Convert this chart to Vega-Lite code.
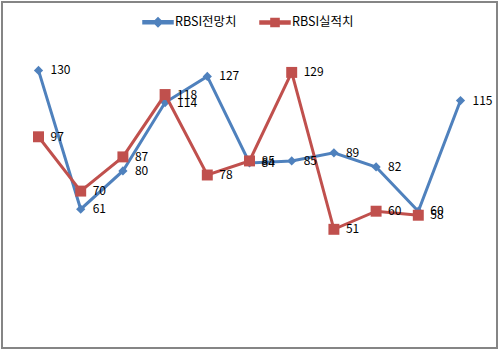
{
  "$schema": "https://vega.github.io/schema/vega-lite/v6.json",
  "width": 495,
  "height": 346,
  "padding": {"left": 2, "top": 2, "right": 3, "bottom": 4},
  "autosize": {"type": "none"},
  "background": "white",
  "config": {"view": {"stroke": "#858585", "strokeWidth": 2}, "font": "Noto Sans CJK KR"},
  "data": {"values": [
    {"s": "RBSI전망치", "i": 1, "v": 130},
    {"s": "RBSI전망치", "i": 2, "v": 61},
    {"s": "RBSI전망치", "i": 3, "v": 80},
    {"s": "RBSI전망치", "i": 4, "v": 114},
    {"s": "RBSI전망치", "i": 5, "v": 127},
    {"s": "RBSI전망치", "i": 6, "v": 84},
    {"s": "RBSI전망치", "i": 7, "v": 85},
    {"s": "RBSI전망치", "i": 8, "v": 89},
    {"s": "RBSI전망치", "i": 9, "v": 82},
    {"s": "RBSI전망치", "i": 10, "v": 60},
    {"s": "RBSI전망치", "i": 11, "v": 115},
    {"s": "RBSI실적치", "i": 1, "v": 97},
    {"s": "RBSI실적치", "i": 2, "v": 70},
    {"s": "RBSI실적치", "i": 3, "v": 87},
    {"s": "RBSI실적치", "i": 4, "v": 118},
    {"s": "RBSI실적치", "i": 5, "v": 78},
    {"s": "RBSI실적치", "i": 6, "v": 85},
    {"s": "RBSI실적치", "i": 7, "v": 129},
    {"s": "RBSI실적치", "i": 8, "v": 51},
    {"s": "RBSI실적치", "i": 9, "v": 60},
    {"s": "RBSI실적치", "i": 10, "v": 58}
  ]},
  "encoding": {
    "x": {"field": "i", "type": "ordinal", "scale": {"type": "point", "padding": 0.865}, "axis": null},
    "y": {"field": "v", "type": "quantitative", "scale": {"domain": [-8, 164], "nice": false, "zero": false}, "axis": null},
    "color": {
      "field": "s", "type": "nominal",
      "scale": {"domain": ["RBSI전망치", "RBSI실적치"], "range": ["#4F81BD", "#C0504D"]},
      "legend": {
        "orient": "none", "legendX": 140, "legendY": 4, "direction": "horizontal", "title": null,
        "symbolSize": 900, "labelFontSize": 12.5, "labelFont": "Noto Sans CJK KR", "labelColor": "black",
        "columnPadding": 20, "labelOffset": 1,
        "encode": {"symbols": {"update": {
          "shape": {"signal": "datum.value === 'RBSI전망치' ? 'M-1,-0.1H-0.2L0,-0.3L0.2,-0.1H1V0.1H0.2L0,0.3L-0.2,0.1H-1Z' : 'M-1,-0.1H-0.27V-0.27H0.27V-0.1H1V0.1H0.27V0.27H-0.27V0.1H-1Z'"},
          "fill": {"scale": "color", "field": "value"},
          "stroke": {"value": "transparent"},
          "opacity": {"value": 1}
        }}}
      }
    }
  },
  "layer": [
    {"transform": [{"filter": "datum.s === 'RBSI전망치'"}], "mark": {"type": "line", "strokeWidth": 3}},
    {"transform": [{"filter": "datum.s === 'RBSI전망치'"}], "mark": {"type": "point", "shape": "diamond", "filled": true, "size": 85, "opacity": 1}},
    {"transform": [{"filter": "datum.s === 'RBSI실적치'"}], "mark": {"type": "line", "strokeWidth": 3}},
    {"transform": [{"filter": "datum.s === 'RBSI실적치'"}], "mark": {"type": "point", "shape": "square", "filled": true, "size": 120, "opacity": 1}},
    {"mark": {"type": "text", "align": "left", "baseline": "middle", "dx": 12, "fontSize": 12, "font": "Noto Sans CJK KR"},
     "encoding": {"text": {"field": "v", "type": "quantitative"}, "color": {"value": "black"}}}
  ]
}
